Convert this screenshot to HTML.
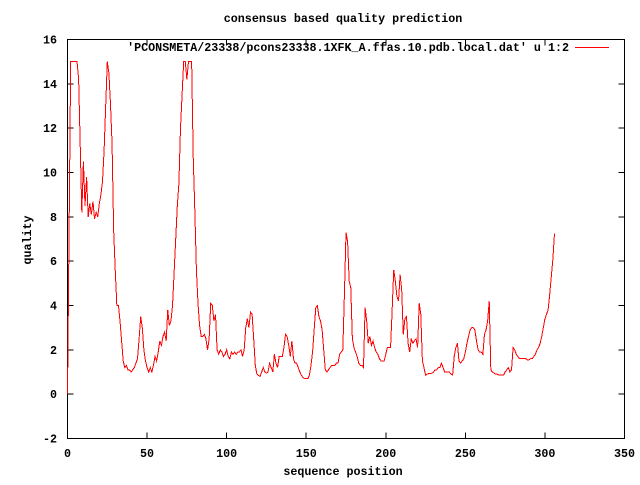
<!DOCTYPE html>
<html><head><meta charset="utf-8"><style>
body{margin:0;background:#fff}
svg text{font-family:"Liberation Mono",monospace;font-size:11.7px;font-weight:bold;fill:#000}
</style></head><body>
<svg id="chart" width="640" height="480" xmlns="http://www.w3.org/2000/svg">
<rect width="640" height="480" fill="#fff"/>
<text x="343" y="22" text-anchor="middle">consensus based quality prediction</text>
<text x="343" y="475" text-anchor="middle">sequence position</text>
<text x="0" y="0" text-anchor="middle" transform="translate(31,240) rotate(-90)">quality</text>
<rect x="67.5" y="39.5" width="557" height="399" fill="none" stroke="#000" stroke-width="1"/>
<g id="ticks" shape-rendering="crispEdges"></g>
<text x="569" y="51" text-anchor="end">'PCONSMETA/23338/pcons23338.1XFK_A.ffas.10.pdb.local.dat' u 1:2</text>
<line x1="575" y1="47.5" x2="609" y2="47.5" stroke="#ff0000" stroke-width="1" shape-rendering="crispEdges"/>
<polyline id="series" fill="none" stroke="#ff0000" stroke-width="1" shape-rendering="crispEdges"/>
</svg>
<script>
const xTicks=[0,50,100,150,200,250,300,350];
const yTicks=[-2,0,2,4,6,8,10,12,14,16];
const quality=[0,7.4,15,15,15,15,15,14.2,11.2,8.2,
10.5,8.5,9.8,8,8.6,8.1,8.7,7.9,8.2,8.0,
8.6,9,9.6,11,13,15,14.5,13.1,11.3,7.4,
5.6,4.0,4.0,3.3,2.4,1.5,1.2,1.3,1.1,1.1,
1.0,1.1,1.2,1.4,1.6,2.5,3.5,3.0,2.0,1.5,
1.2,1.0,1.2,1.0,1.3,1.7,1.5,1.9,2.4,2.2,
2.6,2.8,2.4,3.8,3.1,3.3,4,5.5,7,8.5,
9.5,12,13.5,15,15,14.2,15,15,15,10.7,
8.3,5.6,4.1,3.1,2.6,2.6,2.7,2.5,2.0,2.5,
4.1,4.0,3.3,3.6,2.0,1.8,2.0,1.9,1.7,1.8,
2.0,1.7,1.6,1.9,1.8,1.9,1.8,1.9,1.9,2.0,
1.7,2.0,3.0,3.4,3.0,3.7,3.6,2.5,1.3,0.9,
0.85,0.8,1.0,1.2,1.0,0.95,1.0,1.4,1.2,1.0,
1.8,1.4,1.2,1.7,1.7,1.7,2.1,2.7,2.6,2.2,
1.7,2.4,1.6,1.4,1.4,1.2,1.0,0.85,0.75,0.7,
0.7,0.7,0.85,1.3,1.9,2.9,3.9,4.0,3.5,3.3,
2.9,2.0,1.1,1.0,1.1,1.2,1.3,1.3,1.3,1.4,
1.4,1.8,1.9,2.0,4.5,7.3,6.9,5.1,4.8,2.5,
2.1,1.9,1.7,1.4,1.3,1.3,1.2,3.9,3.3,2.3,
2.6,2.2,2.4,2.1,1.9,1.8,1.6,1.5,1.5,1.5,
1.8,2.1,2.1,2.1,3.8,5.6,5.1,4.4,4.2,5.4,
4.7,2.7,3.4,3.5,2.3,1.9,2.5,2.3,2.4,2.5,
2.1,4.1,3.6,1.5,1.2,0.86,0.9,0.93,0.93,0.95,
1.0,1.1,1.1,1.2,1.2,1.4,1.2,1.0,1.0,1.0,
1.0,0.9,0.86,1.7,2.1,2.3,1.5,1.4,1.5,1.6,
1.9,2.3,2.6,2.9,3.0,3.0,2.9,2.4,2.0,1.9,
1.9,1.8,2.7,2.9,3.3,4.2,1.1,1.0,0.95,0.9,
0.9,0.86,0.86,0.86,0.86,1.0,1.1,1.2,1.0,1.1,
2.1,2.0,1.8,1.7,1.6,1.6,1.6,1.6,1.6,1.55,
1.55,1.6,1.6,1.7,1.8,2.0,2.1,2.3,2.6,3.0,
3.4,3.6,3.8,4.5,5.3,6.1,7.25];
const L=67.5,R=624.5,T=39.5,B=438.5,xMin=0,xMax=350,yMin=-2,yMax=16;
function sx(v){return L+(v-xMin)/(xMax-xMin)*(R-L);}
function sy(v){return B-(v-yMin)/(yMax-yMin)*(B-T);}
const NS="http://www.w3.org/2000/svg",g=document.getElementById('ticks');
function mk(tag,attrs){const e=document.createElementNS(NS,tag);for(const k in attrs)e.setAttribute(k,attrs[k]);g.appendChild(e);return e;}
xTicks.forEach(t=>{
  const x=sx(t);
  const a=mk('line',{x1:x,y1:B,x2:x,y2:B-6,stroke:'#000'});
  
  
  const b=mk('line',{x1:x,y1:T,x2:x,y2:T+6,stroke:'#000'});
  
  
  const tx=mk('text',{x:x,y:457,'text-anchor':'middle'});
  tx.textContent=t;
  
  
});
yTicks.forEach(t=>{
  const y=sy(t);
  const a=mk('line',{x1:L,y1:y,x2:L+6,y2:y,stroke:'#000'});
  
  
  const b=mk('line',{x1:R,y1:y,x2:R-6,y2:y,stroke:'#000'});
  
  
  const tx=mk('text',{x:57,y:y+4,'text-anchor':'end'});
  tx.textContent=t;
  
  
});
document.getElementById('series').setAttribute('points',quality.map((v,i)=>sx(i).toFixed(2)+','+sy(v).toFixed(2)).join(' '));
</script>
</body></html>
